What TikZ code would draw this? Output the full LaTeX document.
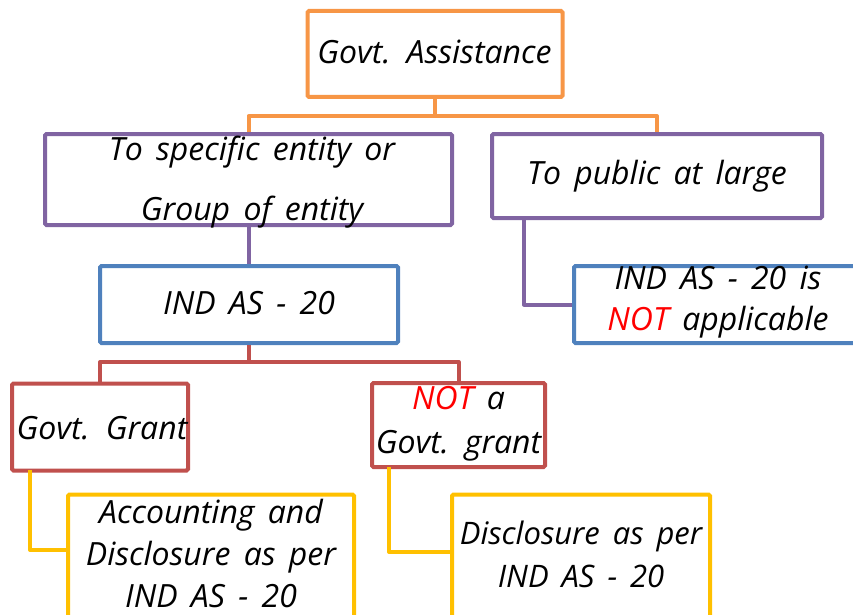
\documentclass[tikz,border=0pt]{standalone}
\usepackage{fontspec}
\setmainfont{Open Sans}[WordSpace=1.6]
\definecolor{corange}{HTML}{F79646}
\definecolor{cpurple}{HTML}{8064A2}
\definecolor{cblue}{HTML}{4F81BD}
\definecolor{cred}{HTML}{C0504D}
\definecolor{cyellow}{HTML}{FFC000}
\definecolor{notred}{HTML}{FF0000}
\begin{document}
\begin{tikzpicture}[x=1pt,y=-1pt,
  box/.style={draw=#1, line width=4pt, rounded corners=1.5pt, fill=white, inner sep=0pt},
  conn/.style={draw=#1, line width=4pt, line join=round},
  txt/.style={font=\fontsize{32}{42}\selectfont\itshape, align=center, inner sep=0pt}]
\useasboundingbox (0,0) rectangle (853,615);
\clip (0,0) rectangle (853,615);
% boxes
\node[box=corange, minimum width=255pt, minimum height=86pt] (ga) at (435,54) {};
\node[box=cpurple, minimum width=407pt, minimum height=91pt] (spec) at (248.5,179.5) {};
\node[box=cpurple, minimum width=330pt, minimum height=84pt] (pub) at (657,176) {};
\node[box=cblue, minimum width=298pt, minimum height=77pt] (ind) at (249,304.5) {};
\node[box=cblue, minimum width=300pt, minimum height=77pt] (na) at (724,304.5) {};
\node[box=cred, minimum width=176pt, minimum height=87pt] (gg) at (100,427) {};
\node[box=cred, minimum width=173pt, minimum height=84pt] (nga) at (458.5,425) {};
\node[box=cyellow, minimum width=286pt, minimum height=145pt] (acc) at (211,567) {};
\node[box=cyellow, minimum width=258pt, minimum height=145pt] (dis) at (581,567) {};
% texts
\node[txt] (tga) at (434.5,52) {Govt. Assistance};
\node[txt] (tspec) at (252,182) {To specific entity or\\[18pt]Group of entity};
\node[txt] (tpub) at (657,176) {To public at large};
\node[txt] (tind) at (249,303) {IND AS - 20};
\node[txt, font=\fontsize{32}{41}\selectfont\itshape] (tna) at (718,302) {IND AS - 20 is\\{\color{notred}NOT} applicable};
\node[txt] (tgg) at (102,428) {Govt. Grant};
\node[txt, font=\fontsize{32}{44}\selectfont\itshape] (tnga) at (458.5,424) {{\color{notred}NOT} a\\Govt. grant};
\node[txt] (tacc) at (211,553) {Accounting and\\Disclosure as per\\IND AS - 20};
\node[txt, font=\fontsize{31}{43}\selectfont\itshape] (tdis) at (581,554) {Disclosure as per\\IND AS - 20};
% connector coordinates
\coordinate (pr) at (524,218);
\coordinate (yl) at (30,470);
\coordinate (yr) at (389,467);
% connectors
\draw[conn=corange] (ga.south) -- ++(0,17) -| (spec.north);
\draw[conn=corange] (ga.south) -- ++(0,17) -| (pub.north);
\draw[conn=cpurple] (spec.south -| ind.north) -- (ind.north);
\draw[conn=cpurple] (pr) |- (na.west);
\draw[conn=cred] (ind.south) -- ++(0,17) -| (gg.north);
\draw[conn=cred] (ind.south) -- ++(0,17) -| (nga.north);
\draw[conn=cyellow] (yl) |- ([yshift=17pt]acc.west);
\draw[conn=cyellow] (yr) |- ([yshift=15pt]dis.west);
\end{tikzpicture}
\end{document}
